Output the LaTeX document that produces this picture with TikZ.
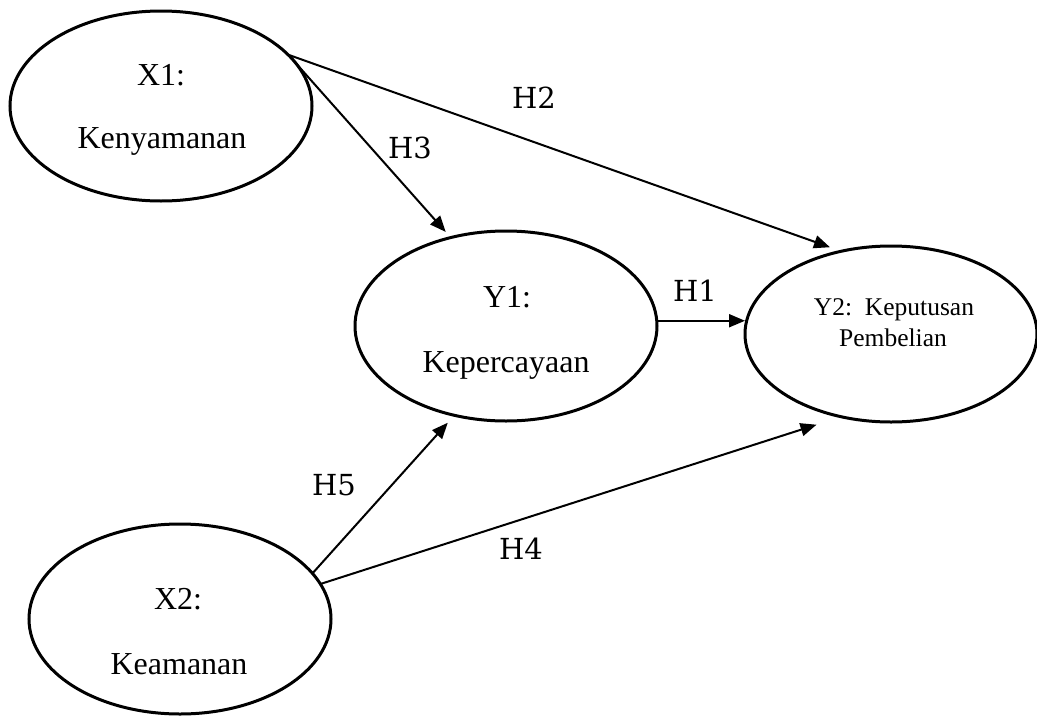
\documentclass[tikz,border=0pt]{standalone}
\usepackage{fontspec}
\setmainfont{Liberation Serif}
\newfontfamily\hypfont{DejaVu Serif}
\usetikzlibrary{shapes.geometric,arrows.meta}

\begin{document}
\begin{tikzpicture}[x=1pt,y=-1pt,
  construct/.style={draw, ellipse, line width=3pt, minimum width=302pt,
    minimum height=190pt, inner sep=0pt, outer sep=0pt},
  lbl/.style={anchor=base, inner sep=0pt, font=\fontsize{32}{38}\selectfont},
  smalllbl/.style={anchor=base, inner sep=0pt, font=\fontsize{25.5}{30}\selectfont},
  hyp/.style={inner sep=0pt, font=\hypfont\fontsize{29}{34}\selectfont},
  link/.style={line width=2pt, -{Triangle[length=16pt,width=13pt]}}
]
\useasboundingbox (0,0) rectangle (1037,718);

% latent constructs
\node[construct] (x1) at (161,106) {};
\node[construct] (y1) at (506,326) {};
\node[construct, minimum width=292pt, minimum height=176pt] (y2) at (891,334) {};
\node[construct] (x2) at (180,619) {};

% construct names
\node[lbl] (x1a) at (161,85) {X1:};
\node[lbl] (x1b) at (162,148) {Kenyamanan};
\node[lbl] (y1a) at (507,307) {Y1:};
\node[lbl] (y1b) at (506,372) {Kepercayaan};
\node[smalllbl] (y2a) at (894,315) {Y2:\ \ Keputusan};
\node[smalllbl] (y2b) at (893,346) {Pembelian};
\node[lbl] (x2a) at (178,609) {X2:};
\node[lbl] (x2b) at (179,674) {Keamanan};

% hypothesised paths
\draw[link, shorten >=12pt] (x1.22) -- (y2.121);
\draw[link, shorten >=7.6pt] (x1.18.6) -- (y1.122.5);
\draw[link] (y1.2) -- (y1.2 -| y2.west);
\draw[link, shorten >=10pt] (x2.19.2) -- (y1.240.2);
\draw[link, shorten >=26pt] (x2.14) -- (y2.239.4);

% path labels
\node[hyp] (h1) at (695,291) {H1};
\node[hyp] (h2) at (534,98) {H2};
\node[hyp] (h3) at (410,148) {H3};
\node[hyp] (h4) at (521,549) {H4};
\node[hyp] (h5) at (334,485) {H5};
\end{tikzpicture}
\end{document}
